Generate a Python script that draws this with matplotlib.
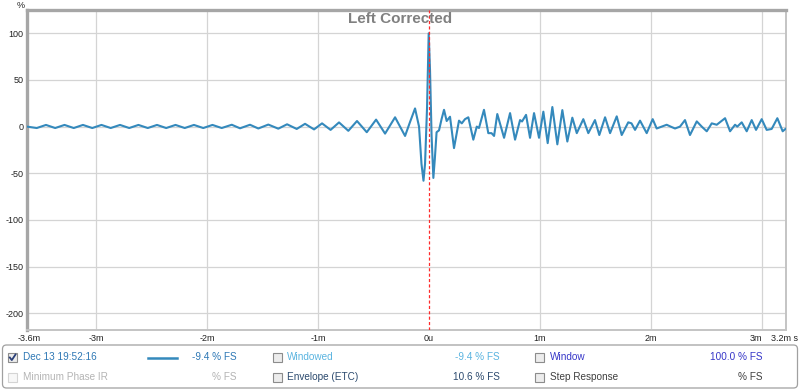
import matplotlib
matplotlib.use("Agg")
import matplotlib.pyplot as plt
from matplotlib.patches import Rectangle, FancyBboxPatch

plt.rcParams['font.family'] = ['Liberation Sans', 'DejaVu Sans']

# impulse response, time in ms, value in % FS
t_ms = [
    -3.622, -3.534, -3.451, -3.368, -3.284, -3.201, -3.118, -3.034, -2.951, -2.868,
    -2.784, -2.701, -2.618, -2.534, -2.451, -2.368, -2.284, -2.201, -2.118, -2.034,
    -1.951, -1.868, -1.777, -1.703, -1.613, -1.538, -1.448, -1.358, -1.279, -1.192,
    -1.117, -1.036, -0.964, -0.887, -0.811, -0.727, -0.649, -0.561, -0.477, -0.396,
    -0.306, -0.216, -0.171, -0.126, -0.090, -0.068, -0.050, -0.036, -0.018, -0.003,
    0.009, 0.023, 0.039, 0.052, 0.068, 0.090, 0.113, 0.135, 0.159, 0.189,
    0.225, 0.270, 0.295, 0.324, 0.354, 0.399, 0.430, 0.450, 0.495, 0.534,
    0.563, 0.586, 0.615, 0.676, 0.730, 0.775, 0.820, 0.838, 0.874, 0.910,
    0.946, 0.991, 1.030, 1.069, 1.111, 1.156, 1.201, 1.246, 1.291, 1.331,
    1.390, 1.435, 1.495, 1.534, 1.586, 1.631, 1.691, 1.736, 1.795, 1.824,
    1.856, 1.901, 1.961, 2.015, 2.051, 2.096, 2.141, 2.177, 2.216, 2.261,
    2.306, 2.351, 2.412, 2.457, 2.502, 2.547, 2.592, 2.667, 2.712, 2.757,
    2.777, 2.817, 2.862, 2.907, 2.946, 2.997, 3.042, 3.087, 3.138, 3.186,
    3.216,
]
level_pct = [
    0, -1.5, 1.8, -1.5, 1.8, -1.5, 1.8, -1.5, 1.8, -1.5,
    1.8, -1.5, 1.8, -1.5, 1.8, -1.5, 1.8, -1.5, 1.8, -1.5,
    1.8, -1.5, 2.0, -1.8, 2.0, -2.0, 2.2, -2.2, 2.5, -2.5,
    3.0, -3.0, 3.5, -3.5, 4.5, -4.5, 6.0, -6.0, 7.5, -7.5,
    10.0, -10.0, 5.0, 19.5, 0, -40, -58, -40, 20, 100,
    60, -10, -55, -35, -6, -4, 8, 18, 6, 10.6,
    -23, 6.4, 3.5, 8, 10, -14, 0, -1.5, 18, -7,
    -7, -10, 13.5, -12, 14.5, -14, 7, 5.5, 12.6, -12,
    14.5, -12, 16, -17.7, 21, -19, 17.7, -16, 9.6, -7,
    8, -7, 7, -9, 10, -7, 11, -9, 4.6, 3.5,
    -3.5, 6.4, -7, 8, -2, 0, 2, 0, -2, 0,
    7, -9, 5.6, 0, -5, 3.5, 2, 9, -5, 2,
    0, 4.6, -5, 7, -3.5, 8, -3.5, -2.5, 9, -5,
    -2,
]

x_ticks = [-3.6, -3, -2, -1, 0, 1, 2, 3, 3.2]
x_labels = ["-3.6m", "-3m", "-2m", "-1m", "0u", "1m", "2m", "3m", "3.2m s"]
x_grid = [-3, -2, -1, 1, 2, 3]
y_ticks = [100, 50, 0, -50, -100, -150, -200]

# legend rows: (checkbox state, label, label colour, value text, value colour)
legend_left = [
    ("checked", "Dec 13 19:52:16", "#2e78b5", "-9.4 % FS", "#2e78b5"),
    ("disabled", "Minimum Phase IR", "#b4b4b4", "% FS", "#b4b4b4"),
]
legend_mid = [
    ("box", "Windowed", "#5ab4e0", "-9.4 % FS", "#5ab4e0"),
    ("box", "Envelope (ETC)", "#2c4a6e", "10.6 % FS", "#2c4a6e"),
]
legend_right = [
    ("box", "Window", "#3636c8", "100.0 % FS", "#3636c8"),
    ("box", "Step Response", "#404040", "% FS", "#404040"),
]

trace_color = "#3489bc"

fig = plt.figure(figsize=(8, 3.9), dpi=100)
ax = fig.add_axes([27 / 800, 1 - 330 / 390, 759 / 800, 320 / 390])
ax.set_zorder(2)

for g in x_grid:
    ax.axvline(g, color="#d4d4d4", lw=0.9, zorder=1)
for g in y_ticks:
    ax.axhline(g, color="#d4d4d4", lw=0.9, zorder=1)

ax.plot(t_ms, level_pct, color=trace_color, lw=1.5, solid_joinstyle="round",
        solid_capstyle="round", zorder=3)
ax.axvline(0, color="#ff2a2a", lw=0.9, ls=(0, (2.5, 1.8)), zorder=4)

ax.set_xlim(-3.622, 3.216)
ax.set_ylim(-218, 125)
ax.set_xticks(x_ticks)
ax.set_xticklabels(x_labels)
ax.set_yticks(y_ticks)
ax.set_yticklabels([str(v) for v in y_ticks])
ax.tick_params(length=0, labelsize=6.5, colors="#222222")
ax.tick_params(axis="y", pad=2.5)
ax.tick_params(axis="x", pad=3)
ax.get_xticklabels()[-2].set_horizontalalignment("right")
ax.get_xticklabels()[-1].set_horizontalalignment("center")

for side in ["left", "top"]:
    ax.spines[side].set_color("#a6a6a6")
    ax.spines[side].set_linewidth(2.4)
for side in ["right", "bottom"]:
    ax.spines[side].set_color("#c4c4c4")
    ax.spines[side].set_linewidth(1.4)

fig.text(400 / 800, 1 - 19 / 390, "Left Corrected", ha="center", va="center",
         fontsize=11, fontweight="bold", color="#808080", zorder=5)
fig.text(21 / 800, 1 - 5 / 390, "%", ha="center", va="center", fontsize=6.5, color="#222222")

# legend panel in pixel coordinates
lg = fig.add_axes([0, 0, 1, 1])
lg.set_zorder(0)
lg.set_xlim(0, 800)
lg.set_ylim(390, 0)
lg.axis("off")
lg.add_patch(FancyBboxPatch((2.5, 345), 795, 43, boxstyle="round,pad=0,rounding_size=4",
                            fc="white", ec="#a0a0a0", lw=0.9))


def checkbox(x, y, state):
    if state == "disabled":
        lg.add_patch(Rectangle((x, y - 4.5), 9, 9, fc="#f7f7f7", ec="#d4d4d4", lw=0.8))
        return
    lg.add_patch(Rectangle((x, y - 4.5), 9, 9, fc="#ececec", ec="#8c8c8c", lw=0.8))
    if state == "checked":
        lg.plot([x + 1.8, x + 3.8, x + 7.5], [y, y + 2.6, y - 3], color="#2a3f78", lw=1.3)


rows_y = [357.5, 377]
for i, y in enumerate(rows_y):
    for (state, label, lc, val, vc), bx, tx, vx in [
        (legend_left[i], 8, 23, 237),
        (legend_mid[i], 273, 287, 500),
        (legend_right[i], 535, 550, 763),
    ]:
        checkbox(bx, y, state)
        lg.text(tx, y, label, ha="left", va="center", fontsize=7.2, color=lc)
        lg.text(vx, y, val, ha="right", va="center", fontsize=7.2, color=vc)

lg.plot([148, 177], [rows_y[0], rows_y[0]], color=trace_color, lw=1.8)

fig.savefig("out.png", dpi=100, facecolor="white")
